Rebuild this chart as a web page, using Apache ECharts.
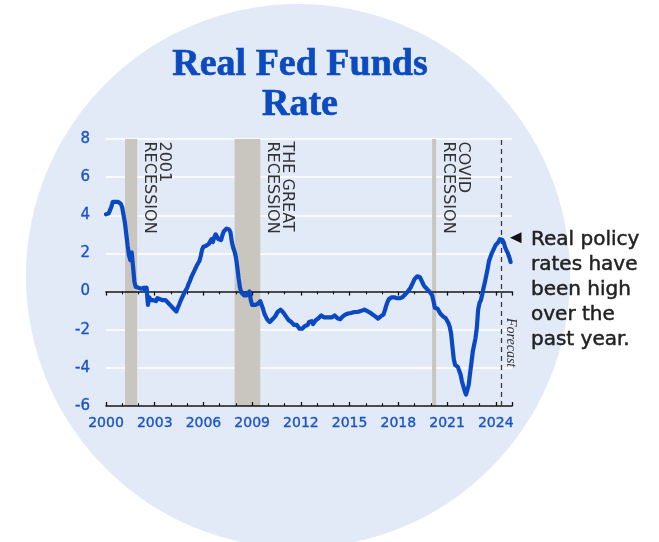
<!DOCTYPE html>
<html>
<head>
<meta charset="utf-8">
<script src="https://cdn.jsdelivr.net/npm/echarts@6/dist/echarts.min.js"></script>
<style>
  html, body { margin: 0; padding: 0; background: #ffffff; }
  #chart { width: 659px; height: 542px; }
</style>
</head>
<body>
<div id="chart"></div>
<script>
// Real fed funds rate, monthly, January 2000 through December 2024 (percent)
const firstYear = 2000;
const realRate = [
  // 2000
  4.05, 3.95, 4.1, 4.0, 4.45, 4.7, 4.75, 4.7, 4.68, 4.7, 4.65, 4.6,
  // 2001
  4.4, 4.0, 3.6, 3.0, 2.4, 1.9, 1.65, 2.05, 1.3, 0.5, 0.25, 0.3,
  // 2002
  0.2, 0.3, 0.15, 0.25, 0.2, 0.05, 0.2, -0.7, -0.3, -0.45, -0.35, -0.45,
  // 2003
  -0.4, -0.5, -0.35, -0.3, -0.4, -0.35, -0.45, -0.5, -0.45, -0.55, -0.6, -0.7,
  // 2004
  -0.75, -0.8, -0.9, -0.95, -1.05, -0.85, -0.7, -0.5, -0.35, -0.2, -0.05, 0.05,
  // 2005
  0.2, 0.4, 0.55, 0.75, 0.9, 1.05, 1.2, 1.35, 1.45, 1.6, 1.85, 2.2,
  // 2006
  2.35, 2.35, 2.4, 2.45, 2.5, 2.6, 2.75, 2.6, 2.85, 3.0, 2.9, 2.75,
  // 2007
  2.65, 2.7, 2.95, 3.15, 3.25, 3.3, 3.3, 3.25, 3.1, 2.6, 2.3, 2.1,
  // 2008
  1.8, 1.3, 0.7, 0.2, -0.05, -0.15, -0.2, -0.1, -0.2, -0.15, 0.0, -0.45,
  // 2009
  -0.7, -0.75, -0.7, -0.75, -0.65, -0.55, -0.5, -0.6, -0.9, -1.15, -1.3, -1.45,
  // 2010
  -1.55, -1.6, -1.5, -1.45, -1.35, -1.3, -1.2, -1.05, -0.95, -0.95, -1.0, -1.1,
  // 2011
  -1.2, -1.3, -1.4, -1.5, -1.6, -1.6, -1.7, -1.75, -1.7, -1.75, -1.85, -1.95,
  // 2012
  -1.9, -1.95, -1.85, -1.8, -1.7, -1.75, -1.6, -1.55, -1.55, -1.7, -1.6, -1.5,
  // 2013
  -1.45, -1.4, -1.3, -1.25, -1.3, -1.35, -1.4, -1.35, -1.4, -1.35, -1.3, -1.35,
  // 2014
  -1.3, -1.25, -1.3, -1.4, -1.45, -1.45, -1.35, -1.3, -1.25, -1.2, -1.15, -1.15,
  // 2015
  -1.1, -1.12, -1.1, -1.08, -1.05, -1.07, -1.07, -1.05, -1.02, -1.0, -0.98, -0.95,
  // 2016
  -1.0, -1.02, -1.05, -1.1, -1.12, -1.2, -1.25, -1.3, -1.35, -1.42, -1.38, -1.3,
  // 2017
  -1.3, -1.2, -1.0, -0.75, -0.55, -0.4, -0.35, -0.3, -0.32, -0.3, -0.35, -0.35,
  // 2018
  -0.3, -0.35, -0.45, -0.3, -0.25, -0.15, -0.1, 0.0, 0.1, 0.2, 0.35, 0.5,
  // 2019
  0.65, 0.75, 0.8, 0.8, 0.75, 0.65, 0.45, 0.3, 0.25, 0.15, 0.05, 0.0,
  // 2020
  -0.05, -0.2, -0.5, -0.85, -0.9, -0.9, -1.0, -1.15, -1.25, -1.3, -1.35, -1.4,
  // 2021
  -1.5, -1.65, -1.85, -2.2, -2.9, -3.55, -3.85, -3.9, -3.95, -4.15, -4.35, -4.7,
  // 2022
  -4.95, -5.2, -5.4, -5.3, -4.9, -4.3, -3.75, -3.15, -2.8, -2.45, -1.9, -0.95,
  // 2023
  -0.6, -0.45, -0.15, 0.2, 0.5, 0.85, 1.2, 1.6, 1.8, 2.0, 2.15, 2.3,
  // 2024
  2.45, 2.55, 2.6, 2.75, 2.82, 2.7, 2.55, 2.3, 2.15, 2.0, 1.8, 1.55
];

const yearLabels = [2000, 2003, 2006, 2009, 2012, 2015, 2018, 2021, 2024];
const rateTicks = [-6, -4, -2, 0, 2, 4, 6, 8];

const recessionNames = ['2001\nRECESSION', 'THE GREAT\nRECESSION', 'COVID\nRECESSION'];
const recessionStart = [2001.17, 2007.92, 2020.08];
const recessionEnd = [2001.92, 2009.5, 2020.33];

const forecastStart = 2024.33;
const titleLines = ['Real Fed Funds', 'Rate'];
const noteText = 'Real policy\nrates have\nbeen high\nover the\npast year.';

const BLUE = '#0a49c3';
const LABEL_BLUE = '#1a54c6';
const INK = '#333333';

const chart = echarts.init(document.getElementById('chart'), null, { renderer: 'canvas' });

// Two copies of the x axis sit on the zero line: one draws ticks below, the other above,
// so the ticks cross the line. A third copy carries the year labels at the bottom.
function zeroAxis(inside) {
  return {
    type: 'value', min: 2000, max: 2025, interval: 3,
    position: 'bottom', z: 3,
    axisLine: { show: true, onZero: true, lineStyle: { color: '#111111', width: 1.5 } },
    axisTick: { show: true, inside: inside, length: 4, lineStyle: { color: '#111111', width: 1.3 } },
    minorTick: { show: true, splitNumber: 3, length: 2.8, lineStyle: { color: '#111111', width: 1.1 } },
    axisLabel: { show: false },
    splitLine: { show: false }
  };
}

const tickText = {
  color: LABEL_BLUE, fontFamily: 'DejaVu Sans',
  textBorderColor: LABEL_BLUE, textBorderWidth: 0.35
};

const option = {
  animation: false,
  backgroundColor: '#ffffff',
  grid: { left: 106, right: 147, top: 139, bottom: 136, containLabel: false },
  xAxis: [
    zeroAxis(false),
    zeroAxis(true),
    {
      type: 'value', min: 2000, max: 2025, interval: 3,
      position: 'bottom',
      axisLine: { show: false, onZero: false },
      axisTick: { show: false },
      splitLine: { show: false },
      axisLabel: Object.assign({
        show: true, margin: 10, fontSize: 14,
        showMaxLabel: false,
        formatter: v => (yearLabels.indexOf(v) >= 0 ? String(v) : '')
      }, tickText)
    }
  ],
  yAxis: {
    type: 'value', min: -6, max: 8, interval: 2,
    axisLine: { show: false },
    axisTick: { show: false },
    splitLine: { show: true, lineStyle: { color: '#ffffff', width: 1.6 } },
    axisLabel: Object.assign({
      margin: 16, fontSize: 15,
      formatter: v => (rateTicks.indexOf(v) >= 0 ? String(v) : '')
    }, tickText)
  },
  series: [
    {
      // recession bands and the forecast divider
      type: 'line', xAxisIndex: 0, yAxisIndex: 0, data: [], z: 1, silent: true,
      markArea: {
        silent: true,
        itemStyle: { color: '#c9c6bf' },
        label: { show: false },
        data: recessionStart.map((s, i) => [{ xAxis: s }, { xAxis: recessionEnd[i] }])
      },
      markLine: {
        silent: true, symbol: ['none', 'none'],
        label: { show: false },
        lineStyle: { color: '#3a3a3a', width: 1.3, type: [5, 4] },
        data: [{ xAxis: forecastStart }]
      }
    },
    {
      name: 'Real fed funds rate',
      type: 'line', xAxisIndex: 0, yAxisIndex: 0, z: 6,
      showSymbol: false, smooth: false,
      lineStyle: { color: BLUE, width: 4.2, join: 'round', cap: 'round' },
      data: realRate.map((v, i) => [firstYear + i / 12, v])
    }
  ]
};

chart.setOption(option);

// Annotations placed from the chart's own scales
const toPx = (x, y) => chart.convertToPixel({ seriesIndex: 1 }, [x, y]);
const topPx = toPx(2000, 8)[1];

const graphics = [
  {
    type: 'circle', id: 'backdrop', z: -10, silent: true,
    shape: { cx: 298, cy: 276, r: 272 },
    style: { fill: '#e2e9f7' }
  },
  {
    type: 'text', id: 'title1', x: 300, y: 65, z: 10,
    style: { text: titleLines[0], font: 'bold 38px "Liberation Serif"', fill: '#0b4bbf', stroke: '#0b4bbf', lineWidth: 0.6, align: 'center', verticalAlign: 'middle' }
  },
  {
    type: 'text', id: 'title2', x: 300, y: 105, z: 10,
    style: { text: titleLines[1], font: 'bold 38px "Liberation Serif"', fill: '#0b4bbf', stroke: '#0b4bbf', lineWidth: 0.6, align: 'center', verticalAlign: 'middle' }
  }
];

recessionNames.forEach((name, i) => {
  const endX = toPx(recessionEnd[i], 0)[0];
  graphics.push({
    type: 'text', id: 'rec' + i, z: 10, silent: true,
    x: endX + 35, y: topPx + 2.5, rotation: -Math.PI / 2,
    style: { text: name, font: '16px "DejaVu Sans"', lineHeight: 15.5, fill: INK, align: 'left', verticalAlign: 'top' }
  });
});

const dashX = toPx(forecastStart, 0)[0];
graphics.push({
  type: 'text', id: 'forecast', z: 10, silent: true,
  x: dashX + 16.5, y: 318, rotation: -Math.PI / 2,
  style: { text: 'Forecast', font: 'italic 14px "Liberation Serif"', fill: INK, align: 'left', verticalAlign: 'top' }
});

// Arrow points at the latest peak of the series
const recent = realRate.slice(-12);
const peak = Math.max.apply(null, recent);
const tip = toPx(2025, peak);
const tipX = tip[0] - 2, tipY = tip[1];
graphics.push({
  type: 'polygon', id: 'arrow', z: 10, silent: true,
  shape: { points: [[tipX, tipY], [tipX + 11.5, tipY - 5.5], [tipX + 11.5, tipY + 5.5]] },
  style: { fill: '#111111' }
});
graphics.push({
  type: 'text', id: 'note', z: 10, silent: true,
  x: tipX + 21, y: tipY - 10,
  style: { text: noteText, font: '20px "DejaVu Sans"', lineHeight: 25, fill: '#222222', stroke: '#222222', lineWidth: 0.5, align: 'left', verticalAlign: 'top' }
});

chart.setOption({ graphic: graphics });
</script>
</body>
</html>
